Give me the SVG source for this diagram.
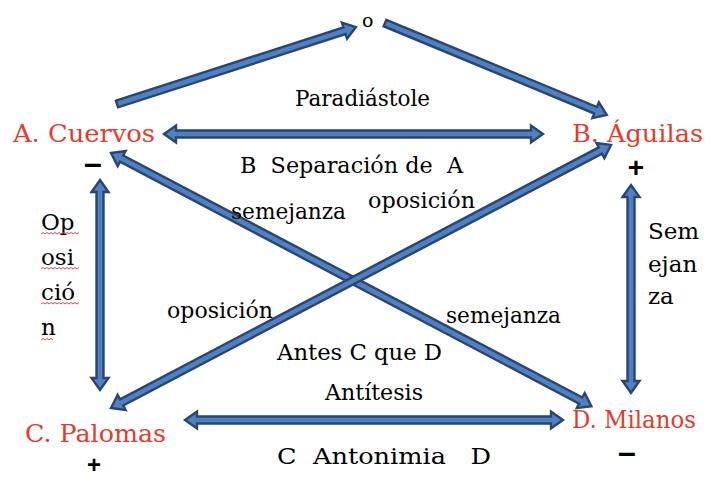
<svg xmlns="http://www.w3.org/2000/svg" width="705" height="479" viewBox="0 0 705 479">
<style>
.arr{fill:#4f80c2;stroke:#2a4570;stroke-width:2.4;stroke-linejoin:miter}
.t{font-size:23px;fill:#000;white-space:pre}
.r{font-size:24px;fill:#e63a2c;white-space:pre}
.s{font-weight:bold;fill:#000;text-anchor:middle}
.sq{fill:none;stroke:#e8453a;stroke-width:1}
</style>
<rect width="705" height="479" fill="#fff"/>
<g id="connectors">
<polygon class="arr" transform="translate(164,134)" points="0,0 12,-8.5 12,-3.5 367,-3.5 367,-8.5 379,0 367,8.5 367,3.5 12,3.5 12,8.5"/>
<polygon class="arr" transform="translate(185,420)" points="0,0 12,-8.5 12,-3.5 366,-3.5 366,-8.5 378,0 366,8.5 366,3.5 12,3.5 12,8.5"/>
<polygon class="arr" transform="translate(100,180) rotate(90)" points="0,0 12,-8.5 12,-3.5 198,-3.5 198,-8.5 210,0 198,8.5 198,3.5 12,3.5 12,8.5"/>
<polygon class="arr" transform="translate(631,185) rotate(90)" points="0,0 12,-8.5 12,-3.5 196,-3.5 196,-8.5 208,0 196,8.5 196,3.5 12,3.5 12,8.5"/>
<polygon class="arr" transform="translate(111,153) rotate(27.79)" points="0,0 12,-8.5 12,-3.5 531,-3.5 531,-8.5 543,0 531,8.5 531,3.5 12,3.5 12,8.5"/>
<polygon class="arr" transform="translate(111,408) rotate(-27.75)" points="0,0 12,-8.5 12,-3.5 553,-3.5 553,-8.5 565,0 553,8.5 553,3.5 12,3.5 12,8.5"/>
<polygon class="arr" transform="translate(117,104) rotate(-17.86)" points="0,-3.5 239,-3.5 239,-8.5 251,0 239,8.5 239,3.5 0,3.5"/>
<polygon class="arr" transform="translate(385,23) rotate(22.51)" points="0,-3.5 228,-3.5 228,-8.5 240,0 228,8.5 228,3.5 0,3.5"/>
</g>
<g font-family="DejaVu Serif, Liberation Serif, Noto Serif, serif">
<g id="node-o"><text class="t" x="362" y="27" style="font-size:19px">o</text></g>
<g id="node-A">
<text class="r" x="13" y="142" textLength="142" lengthAdjust="spacingAndGlyphs">A. Cuervos</text>
</g>
<g id="node-B">
<text class="r" x="572" y="142" textLength="131" lengthAdjust="spacingAndGlyphs">B. Águilas</text>
</g>
<g id="node-C">
<text class="r" x="25" y="442" textLength="141" lengthAdjust="spacingAndGlyphs">C. Palomas</text>
</g>
<g id="node-D">
<text class="r" x="572" y="428" textLength="124" lengthAdjust="spacingAndGlyphs">D. Milanos</text>
</g>
<g id="labels">
<text class="t" x="295" y="106" textLength="135" lengthAdjust="spacingAndGlyphs">Paradiástole</text>
<text class="t" x="240" y="173" textLength="223" lengthAdjust="spacingAndGlyphs">B  Separación de  A</text>
<text class="t" x="231" y="219" textLength="115" lengthAdjust="spacingAndGlyphs">semejanza</text>
<text class="t" x="368" y="208" textLength="107" lengthAdjust="spacingAndGlyphs">oposición</text>
<text class="t" x="41" y="230">Op</text>
<text class="t" x="41" y="265">osi</text>
<text class="t" x="41" y="300">ció</text>
<text class="t" x="41" y="335">n</text>
<text class="t" x="648" y="239">Sem</text>
<text class="t" x="648" y="272">ejan</text>
<text class="t" x="648" y="304">za</text>
<text class="t" x="167" y="318" textLength="106" lengthAdjust="spacingAndGlyphs">oposición</text>
<text class="t" x="446" y="323" textLength="115" lengthAdjust="spacingAndGlyphs">semejanza</text>
<text class="t" x="277" y="360" textLength="165" lengthAdjust="spacingAndGlyphs">Antes C que D</text>
<text class="t" x="325" y="400" textLength="98" lengthAdjust="spacingAndGlyphs">Antítesis</text>
<text class="t" x="277" y="464" textLength="214" lengthAdjust="spacingAndGlyphs">C  Antonimia   D</text>
</g>
</g>
<g id="signs" font-family="Liberation Sans, Arial, sans-serif">
<text class="s" x="93" y="174" style="font-size:32px">–</text>
<text class="s" x="636" y="177" style="font-size:28px">+</text>
<text class="s" x="94" y="473" style="font-size:24px">+</text>
<text class="s" x="627" y="463" style="font-size:32px">–</text>
</g>
<g id="spellcheck">
<path class="sq" d="M41,234 l2,-1.5 l2,1.5 l2,-1.5 l2,1.5 l2,-1.5 l2,1.5 l2,-1.5 l2,1.5 l2,-1.5 l2,1.5 l2,-1.5 l2,1.5 l2,-1.5 l2,1.5 l2,-1.5 l2,1.5 l2,-1.5 l2,1.5 l2,-1.5"/>
<path class="sq" d="M41,269 l2,-1.5 l2,1.5 l2,-1.5 l2,1.5 l2,-1.5 l2,1.5 l2,-1.5 l2,1.5 l2,-1.5 l2,1.5 l2,-1.5 l2,1.5 l2,-1.5 l2,1.5 l2,-1.5 l2,1.5 l2,-1.5 l2,1.5 l2,-1.5"/>
<path class="sq" d="M41,304 l2,-1.5 l2,1.5 l2,-1.5 l2,1.5 l2,-1.5 l2,1.5 l2,-1.5 l2,1.5 l2,-1.5 l2,1.5 l2,-1.5 l2,1.5 l2,-1.5 l2,1.5 l2,-1.5 l2,1.5 l2,-1.5 l2,1.5 l2,-1.5"/>
<path class="sq" d="M41,340 l2,-1.5 l2,1.5 l2,-1.5 l2,1.5 l2,-1.5 l2,1.5"/>
</g>
</svg>
